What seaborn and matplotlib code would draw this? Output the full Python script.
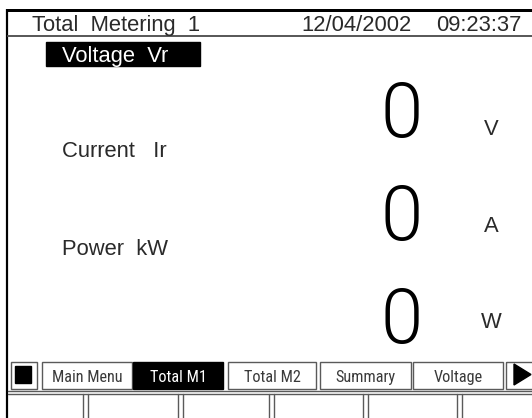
import seaborn as sns
import matplotlib.pyplot as plt
from matplotlib.patches import Rectangle, Polygon
from matplotlib import font_manager

# screen content
title = 'Total  Metering  1'
date_str = '12/04/2002'
time_str = '09:23:37'
labels = ['Voltage  Vr', 'Current   Ir', 'Power  kW']
values = [0, 0, 0]
units = ['V', 'A', 'W']
selected = 0
menu_items = ['Main Menu', 'Total M1', 'Total M2', 'Summary', 'Voltage']
active_menu = 1

sns.set_style('white')
fonts = font_manager.fontManager.ttflist
names = {f.name for f in fonts}
main_font = 'Liberation Sans' if 'Liberation Sans' in names else 'DejaVu Sans'
plt.rcParams['font.family'] = [main_font, 'DejaVu Sans']

# narrow face for the soft-key labels, if any is installed
narrow = dict(family=[main_font], stretch='normal')
for f in fonts:
    if f.name in ('Liberation Sans Narrow', 'Roboto Condensed', 'Open Sans Condensed'):
        narrow = dict(family=[f.name], stretch='normal')
        break
else:
    for f in fonts:
        if f.name in ('DejaVu Sans', 'Noto Sans', 'Roboto', 'Open Sans') and \
                str(f.stretch) in ('condensed', 'semi-condensed', 'extra-condensed', '300', '400'):
            narrow = dict(family=[f.name], stretch=f.stretch)
            break

# light face for the big readings
light = dict(family=[main_font], weight='normal')
for fam in ('Roboto', 'Open Sans', 'Lato', 'Inter', 'Noto Sans'):
    hits = [f for f in fonts if f.name == fam and isinstance(f.weight, int) and f.weight <= 300
            and f.style == 'normal']
    if hits:
        light = dict(family=[fam], weight=max(h.weight for h in hits))
        break

W, H = 532, 418
fig = plt.figure(figsize=(W / 100, H / 100), dpi=100)
ax = fig.add_axes([0, 0, 1, 1])
ax.set_xlim(0, W)
ax.set_ylim(H, 0)
ax.axis('off')
renderer = fig.canvas.get_renderer()

px = 0.72  # pixels -> points at dpi 100
ink = '#2a2a2a'
edge = '#5a5a5a'

# frame
ax.plot([7, 7], [9, H], color='black', lw=2.2 * px, solid_capstyle='butt')
ax.plot([6, W], [9.5, 9.5], color='black', lw=3 * px, solid_capstyle='butt')
ax.plot([8, W], [36, 36], color=edge, lw=2 * px)

# header
ax.text(32, 31, title, fontsize=22 * px, color=ink, va='baseline')
ax.text(301, 31, date_str, fontsize=22 * px, color=ink, va='baseline')
ax.text(436, 31, time_str, fontsize=22 * px, color=ink, va='baseline')

# measurement rows
label_base = [62, 157, 255]
value_base = [137, 240, 343]
unit_base = [135, 232, 328]
for i, (lab, val, unit) in enumerate(zip(labels, values, units)):
    if i == selected:
        ax.add_patch(Rectangle((46, 42), 154, 24, color='black'))
        col = 'white'
    else:
        col = ink
    ax.text(62, label_base[i], lab, fontsize=22 * px, color=col, va='baseline')
    t = ax.text(402, value_base[i], str(val), fontsize=76 * px, color='black',
                ha='center', va='baseline', **light)
    ax.text(491, unit_base[i], unit, fontsize=22 * px, color=ink,
            ha='center', va='baseline')

# menu bar: size the narrow font so 'Main Menu' spans ~71 px
probe = ax.text(0, 0, 'Main Menu', fontsize=20 * px, **narrow)
wpx = probe.get_window_extent(renderer).width
probe.remove()
menu_size = min(20 * px, 20 * px * 71 / wpx)

top, bot = 362, 389
ax.add_patch(Rectangle((11, top), 26, bot - top, fill=False, ec=edge, lw=1.4 * px))
ax.add_patch(Rectangle((14.5, 366), 16.5, 17, color='black'))
menu_x = [(42, 132), (133, 223), (228, 316), (320, 411), (413, 503)]
for j, (item, (x0, x1)) in enumerate(zip(menu_items, menu_x)):
    if j == active_menu:
        ax.add_patch(Rectangle((x0, top), x1 - x0, bot - top, color='black'))
        col = 'white'
    else:
        ax.add_patch(Rectangle((x0, top), x1 - x0, bot - top, fill=False,
                               ec=edge, lw=1.4 * px))
        col = '#3a3a3a'
    ax.text((x0 + x1) / 2, 382, item, fontsize=menu_size, color=col,
            ha='center', va='baseline', **narrow)
ax.add_patch(Rectangle((506, top), 40, bot - top, fill=False, ec=edge, lw=1.4 * px))
ax.add_patch(Polygon([[514, 364], [514, 385], [531, 374.5]], color='black'))

# soft keys row
ax.plot([8, W], [390.5, 390.5], color=edge, lw=1.4 * px)
ax.plot([8, W], [393.5, 393.5], color=edge, lw=1.4 * px)
dividers = [85, 180, 271.5, 365.5, 459.5]
for d in dividers:
    ax.plot([d - 2.5, d - 2.5], [393.5, H], color=edge, lw=1.4 * px)
    ax.plot([d + 2.5, d + 2.5], [393.5, H], color=edge, lw=1.4 * px)

fig.savefig('out.png', dpi=100)
